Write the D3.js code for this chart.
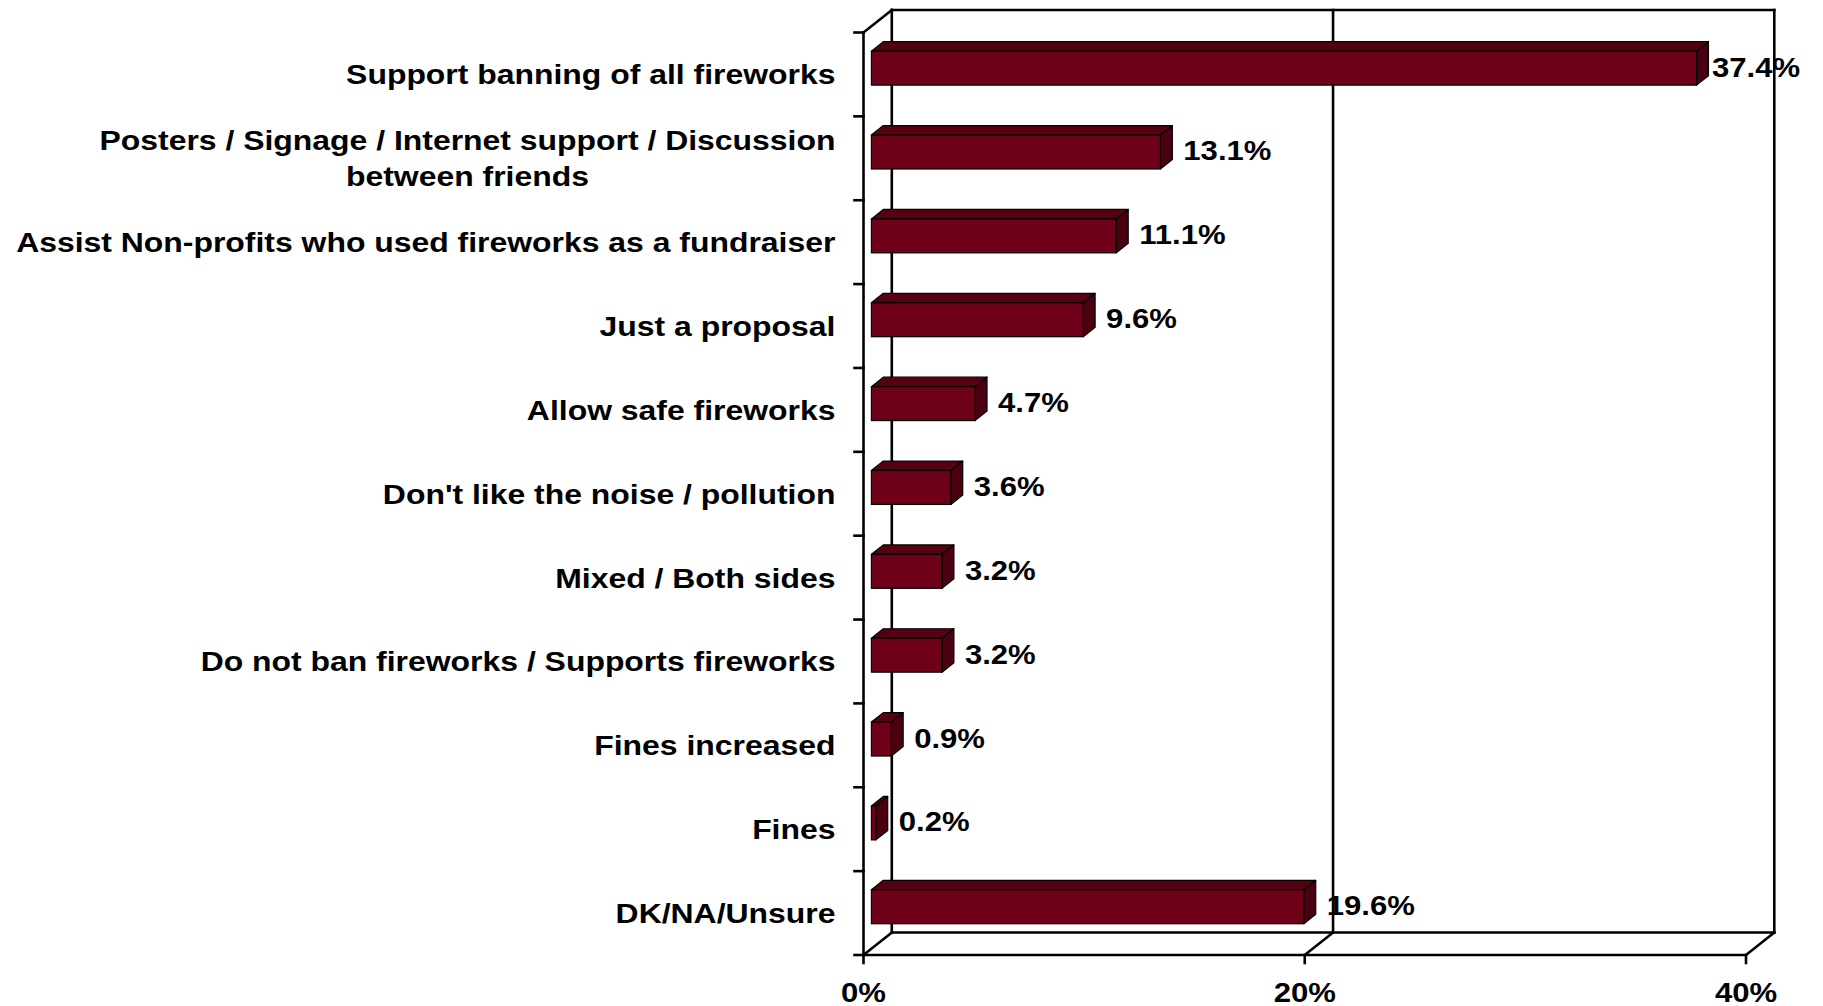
<!DOCTYPE html>
<html>
<head>
<meta charset="utf-8">
<script src="https://cdn.jsdelivr.net/npm/d3@7"></script>
<style>
  html, body { margin: 0; padding: 0; background: #ffffff; }
  svg { display: block; }
  text { font-family: "Liberation Sans", Arial, sans-serif; font-weight: bold; fill: #000; }
</style>
</head>
<body>
<svg id="chart" width="1823" height="1006"></svg>
<script>
// ---- data ----
const categories = [
  "Support banning of all fireworks",
  "Posters / Signage / Internet support / Discussion\nbetween friends",
  "Assist Non-profits who used fireworks as a fundraiser",
  "Just a proposal",
  "Allow safe fireworks",
  "Don't like the noise / pollution",
  "Mixed / Both sides",
  "Do not ban fireworks / Supports fireworks",
  "Fines increased",
  "Fines",
  "DK/NA/Unsure"
];
const values = [37.4, 13.1, 11.1, 9.6, 4.7, 3.6, 3.2, 3.2, 0.9, 0.2, 19.6];
const xTicks = [0, 20, 40];
const xTickLabels = ["0%", "20%", "40%"];

// ---- layout ----
const svg = d3.select("#chart");
const frontLeft = 863.5, frontRight = 1746, frontTop = 32.5, frontBottom = 955;
const DX = 28.3, DY = -22.5;          // depth offset of the back wall
const d0 = 0.28, d1 = 0.70;           // bar depth span (fraction of depth)
const FS = 28;

const x = d3.scaleLinear().domain([0, 40]).range([frontLeft, frontRight]);
const y = d3.scaleBand().domain(d3.range(categories.length))
  .range([frontTop, frontBottom]).paddingInner(0.595).paddingOuter(0.2975);
const step = y.step();

const lineStyle = { stroke: "#000", "stroke-width": 2.6, fill: "none" };
function line(x1, y1, x2, y2, sw) {
  svg.append("line").attr("x1", x1).attr("y1", y1).attr("x2", x2).attr("y2", y2)
    .attr("stroke", "#000").attr("stroke-width", sw || 2.6).attr("stroke-linecap", "square");
}

// ---- walls ----
const backLeft = frontLeft + DX, backTop = frontTop + DY, backBottom = frontBottom + DY;
// back wall lines: verticals at tick values
xTicks.forEach(t => line(x(t) + DX, backTop, x(t) + DX, backBottom));
// back wall top
line(backLeft, backTop, x(40) + DX, backTop);
// back floor line
line(backLeft, backBottom, x(40) + DX, backBottom);
// floor diagonals
xTicks.forEach(t => line(x(t), frontBottom, x(t) + DX, backBottom));
// left wall top diagonal
line(frontLeft, frontTop, backLeft, backTop);
// front floor line
line(frontLeft, frontBottom, x(40), frontBottom);
// front vertical axis
line(frontLeft, frontTop, frontLeft, frontBottom);

// ticks on vertical axis (category boundaries)
d3.range(categories.length + 1).forEach(i => {
  const ty = frontTop + i * step;
  line(frontLeft - 9, ty, frontLeft, ty);
});
// ticks on horizontal axis
xTicks.forEach(t => line(x(t), frontBottom, x(t), frontBottom + 8));

// ---- bars ----
const ox = d0 * DX, oy = d0 * DY;
const bdx = (d1 - d0) * DX, bdy = (d1 - d0) * DY;
const bh = y.bandwidth();
const colFront = "#6e0018", colTop = "#560011", colSide = "#4a0010";

const bars = svg.append("g");
values.forEach((v, i) => {
  const xl = x(0) + ox, xr = x(v) + ox;
  const yt = y(i) + oy, yb = yt + bh;
  const g = bars.append("g");
  g.append("polygon")
    .attr("points", [[xl, yt], [xl + bdx, yt + bdy], [xr + bdx, yt + bdy], [xr, yt]].join(" "))
    .attr("fill", colTop).attr("stroke", "#000").attr("stroke-width", 1.2).attr("stroke-linejoin", "round");
  g.append("polygon")
    .attr("points", [[xr, yt], [xr + bdx, yt + bdy], [xr + bdx, yb + bdy], [xr, yb]].join(" "))
    .attr("fill", colSide).attr("stroke", "#000").attr("stroke-width", 1.2).attr("stroke-linejoin", "round");
  g.append("rect")
    .attr("x", xl).attr("y", yt).attr("width", xr - xl).attr("height", bh)
    .attr("fill", colFront).attr("stroke", "#000").attr("stroke-width", 1.2);
});

// ---- value labels ----
values.forEach((v, i) => {
  const cy = y(i) + oy + bh / 2 - 1.5;
  let lx = x(v) + ox + bdx + 11;
  svg.append("text")
    .attr("transform", `translate(${Math.min(lx, 1712)},${cy + 10}) scale(1.11,1)`)
    .attr("font-size", FS).attr("text-anchor", "start")
    .text(d3.format(".1f")(v) + "%");
});

// ---- category labels ----
const labelRight = 835.5, lineGap = 36;
categories.forEach((c, i) => {
  const lines = c.split("\n");
  const cy = frontTop + (i + 0.5) * step;
  const g = svg.append("g");
  const texts = lines.map((ln, j) => g.append("text")
    .attr("font-size", FS).attr("text-anchor", "middle").text(ln));
  const widths = texts.map(t => t.node().getComputedTextLength() * 1.14);
  const maxW = d3.max(widths);
  const cx = labelRight - maxW / 2;
  texts.forEach((t, j) => {
    const ly = cy + (j - (lines.length - 1) / 2) * lineGap + 10;
    t.attr("transform", `translate(${cx},${ly}) scale(1.14,1)`);
  });
});

// ---- x tick labels ----
xTicks.forEach((t, i) => {
  svg.append("text")
    .attr("transform", `translate(${x(t)},${1001.7}) scale(1.11,1)`)
    .attr("font-size", FS).attr("text-anchor", "middle")
    .text(xTickLabels[i]);
});
</script>
</body>
</html>
